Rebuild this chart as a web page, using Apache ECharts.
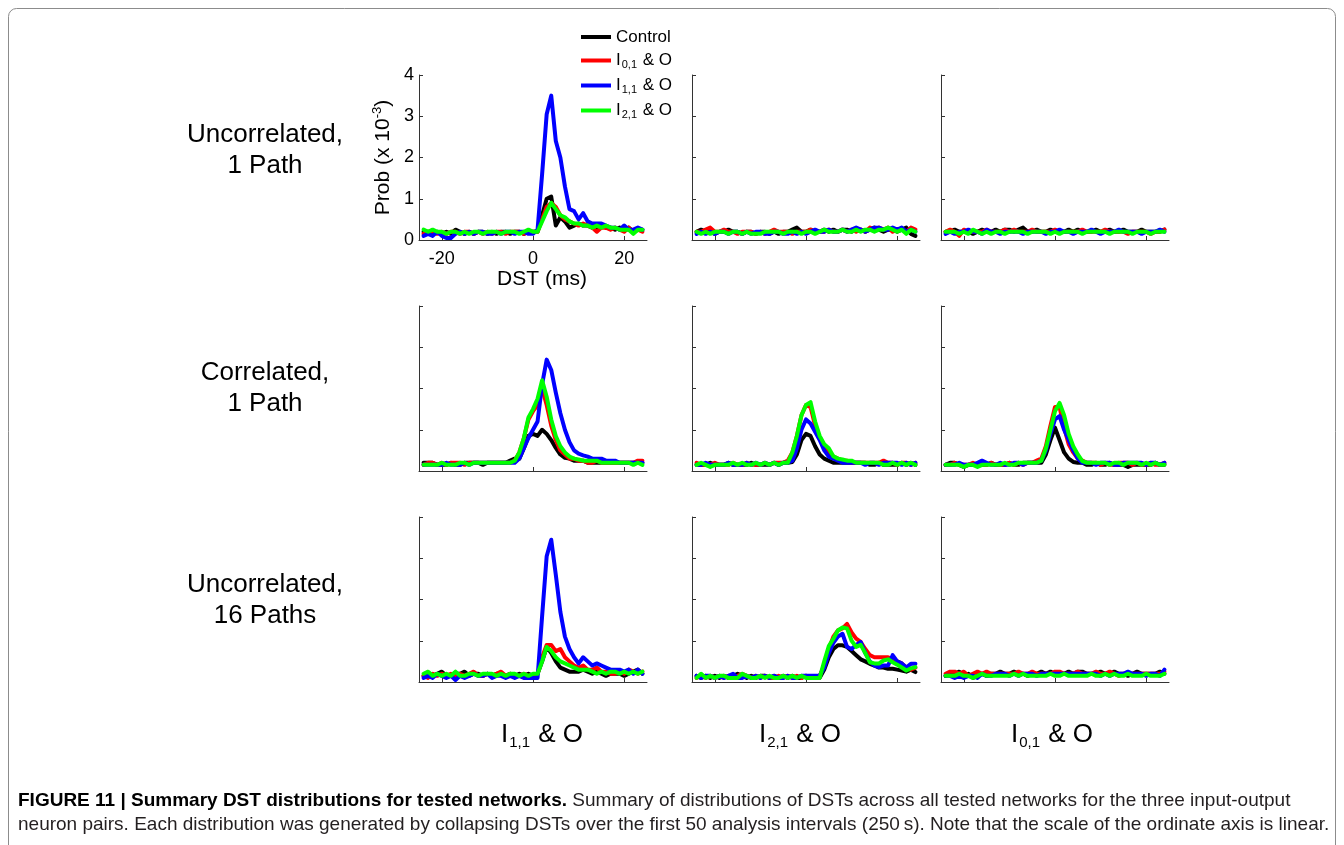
<!DOCTYPE html>
<html>
<head>
<meta charset="utf-8">
<script src="https://cdn.jsdelivr.net/npm/echarts@6/dist/echarts.min.js"></script>
<style>html,body{margin:0;padding:0;background:#fff}#c{width:1344px;height:845px}</style>
</head>
<body>
<div id="c"></div>
<script>
// x values (DST, ms)
const dstMs = [-24,-23,-22,-21,-20,-19,-18,-17,-16,-15,-14,-13,-12,-11,-10,-9,-8,-7,-6,-5,-4,-3,-2,-1,0,1,2,3,4,5,6,7,8,9,10,11,12,13,14,15,16,17,18,19,20,21,22,23,24];
const seriesNames = ['Control', 'I0,1 & O', 'I1,1 & O', 'I2,1 & O'];
const rowLabels = ['Uncorrelated,\n1 Path', 'Correlated,\n1 Path', 'Uncorrelated,\n16 Paths'];
const colLabels = ['1,1', '2,1', '0,1'];
const xTicks = [-20, 0, 20];

// Row 1: Uncorrelated, 1 Path ; column I1,1 & O
const uc1_i11_control = [0.2,0.2,0.15,0.2,0.15,0.2,0.15, 0.25,0.2,0.15,0.2,0.15,0.2,0.2, 0.15,0.2,0.15,0.2,0.2,0.15,0.2, 0.2,0.15,0.2,0.2,0.2,0.6,1.0, 1.05,0.35,0.55,0.45,0.3,0.35,0.4, 0.35,0.35,0.3,0.3,0.35,0.3,0.3, 0.25,0.3,0.25,0.3,0.2,0.25,0.25];
const uc1_i11_i01 = [0.15,0.2,0.2,0.15,0.2,0.15,0.2, 0.2,0.15,0.2,0.2,0.15,0.2,0.15, 0.2,0.15,0.2,0.2,0.15,0.2,0.2, 0.2,0.15,0.2,0.2,0.2,0.5,0.8, 0.9,0.8,0.6,0.5,0.45,0.4,0.35, 0.4,0.35,0.3,0.2,0.3,0.3,0.25, 0.3,0.25,0.2,0.3,0.2,0.25,0.2];
const uc1_i11_i11 = [0.1,0.15,0.1,0.2,0.1,0.05,0.05, 0.15,0.2,0.15,0.2,0.15,0.2,0.2, 0.15,0.15,0.2,0.15,0.2,0.2,0.15, 0.2,0.2,0.15,0.15,0.25,1.6,3.05, 3.5,2.4,2.0,1.3,0.75,0.7,0.5, 0.65,0.45,0.4,0.4,0.4,0.35,0.3, 0.3,0.25,0.35,0.25,0.25,0.3,0.25];
const uc1_i11_i21 = [0.25,0.2,0.25,0.2,0.2,0.15,0.2, 0.2,0.15,0.2,0.15,0.2,0.2,0.15, 0.2,0.2,0.2,0.15,0.2,0.2,0.2, 0.15,0.2,0.25,0.2,0.2,0.45,0.7, 0.9,0.75,0.6,0.55,0.45,0.4,0.4, 0.35,0.35,0.3,0.35,0.3,0.35,0.3, 0.3,0.25,0.25,0.25,0.15,0.25,0.25];
// Row 1 ; column I2,1 & O
const uc1_i21_control = [0.2,0.25,0.2,0.2,0.15,0.2,0.2, 0.25,0.2,0.2,0.15,0.2,0.2,0.15, 0.2,0.2,0.15,0.2,0.15,0.2,0.2, 0.25,0.3,0.2,0.2,0.25,0.2,0.2, 0.25,0.2,0.25,0.2,0.25,0.25,0.2, 0.25,0.25,0.2,0.25,0.3,0.25,0.2, 0.25,0.25,0.2,0.25,0.3,0.15,0.1];
const uc1_i21_i01 = [0.2,0.2,0.25,0.3,0.2,0.2,0.25, 0.2,0.2,0.15,0.2,0.2,0.2,0.15, 0.2,0.15,0.2,0.25,0.2,0.2,0.2, 0.15,0.2,0.2,0.2,0.25,0.2,0.2, 0.2,0.25,0.2,0.2,0.25,0.2,0.25, 0.2,0.25,0.2,0.3,0.25,0.3,0.25, 0.3,0.2,0.25,0.25,0.2,0.3,0.25];
const uc1_i21_i11 = [0.15,0.2,0.15,0.2,0.15,0.2,0.2, 0.15,0.2,0.2,0.15,0.2,0.15,0.2, 0.2,0.15,0.15,0.2,0.2,0.15,0.15, 0.2,0.15,0.2,0.15,0.2,0.25,0.2, 0.2,0.25,0.2,0.2,0.25,0.2,0.25, 0.3,0.25,0.2,0.25,0.3,0.3,0.25, 0.25,0.3,0.25,0.3,0.2,0.25,0.2];
const uc1_i21_i21 = [0.2,0.15,0.2,0.15,0.2,0.2,0.2, 0.15,0.2,0.2,0.15,0.2,0.15,0.15, 0.15,0.2,0.2,0.2,0.2,0.15,0.2, 0.2,0.2,0.15,0.2,0.2,0.15,0.2, 0.25,0.2,0.2,0.2,0.25,0.2,0.2, 0.25,0.2,0.25,0.25,0.2,0.25,0.25, 0.3,0.25,0.2,0.25,0.15,0.25,0.2];
// Row 1 ; column I0,1 & O
const uc1_i01_control = [0.2,0.2,0.25,0.2,0.2,0.2,0.15, 0.2,0.25,0.2,0.2,0.25,0.2,0.25, 0.25,0.2,0.25,0.3,0.2,0.2,0.25, 0.2,0.2,0.25,0.2,0.2,0.2,0.25, 0.2,0.25,0.2,0.2,0.2,0.25,0.2, 0.2,0.25,0.2,0.2,0.25,0.2,0.2, 0.2,0.25,0.2,0.2,0.2,0.2,0.25];
const uc1_i01_i01 = [0.2,0.25,0.2,0.1,0.25,0.2,0.2, 0.2,0.2,0.25,0.2,0.2,0.2,0.25, 0.2,0.25,0.2,0.2,0.2,0.25,0.2, 0.2,0.2,0.2,0.25,0.2,0.2,0.2, 0.2,0.2,0.25,0.2,0.2,0.2,0.2, 0.25,0.2,0.2,0.2,0.2,0.15,0.2, 0.2,0.2,0.2,0.15,0.2,0.2,0.25];
const uc1_i01_i11 = [0.15,0.2,0.15,0.2,0.2,0.25,0.2, 0.2,0.15,0.25,0.2,0.2,0.15,0.2, 0.2,0.2,0.2,0.15,0.2,0.2,0.2, 0.2,0.15,0.2,0.2,0.25,0.2,0.2, 0.15,0.2,0.2,0.2,0.25,0.2,0.15, 0.2,0.2,0.2,0.25,0.2,0.2,0.2, 0.2,0.15,0.2,0.2,0.2,0.25,0.2];
const uc1_i01_i21 = [0.2,0.2,0.2,0.15,0.2,0.15,0.25, 0.2,0.15,0.2,0.15,0.2,0.2,0.15, 0.2,0.2,0.2,0.2,0.15,0.2,0.2, 0.2,0.2,0.15,0.2,0.15,0.2,0.2, 0.2,0.2,0.15,0.2,0.2,0.2,0.2, 0.2,0.15,0.2,0.2,0.2,0.2,0.15, 0.2,0.2,0.2,0.15,0.2,0.2,0.2];

// Row 2: Correlated, 1 Path ; column I1,1 & O
const c1_i11_control = [0.2,0.2,0.2,0.15,0.15,0.15,0.2, 0.15,0.15,0.2,0.2,0.2,0.2,0.15, 0.2,0.2,0.2,0.2,0.2,0.25,0.3, 0.3,0.55,0.85,0.9,0.85,1.0,0.9, 0.75,0.56,0.4,0.32,0.3,0.25,0.25, 0.25,0.2,0.2,0.2,0.2,0.2,0.2, 0.2,0.2,0.2,0.2,0.2,0.2,0.2];
const c1_i11_i01 = [0.15,0.2,0.2,0.15,0.2,0.15,0.2, 0.2,0.2,0.15,0.2,0.2,0.2,0.2, 0.2,0.2,0.2,0.2,0.2,0.2,0.25, 0.45,0.8,1.25,1.45,1.6,2.0,1.6, 1.1,0.75,0.5,0.4,0.3,0.3,0.25, 0.25,0.2,0.2,0.25,0.2,0.2,0.2, 0.2,0.2,0.2,0.2,0.2,0.25,0.25];
const c1_i11_i11 = [0.15,0.15,0.15,0.15,0.15,0.2,0.15, 0.15,0.15,0.2,0.15,0.2,0.2,0.2, 0.2,0.2,0.2,0.2,0.2,0.2,0.2, 0.3,0.55,0.8,1.0,1.2,2.1,2.7, 2.45,1.9,1.4,1.0,0.7,0.5,0.42, 0.38,0.35,0.3,0.3,0.3,0.25,0.25, 0.25,0.2,0.2,0.2,0.2,0.2,0.2];
const c1_i11_i21 = [0.15,0.15,0.15,0.15,0.2,0.15,0.15, 0.15,0.2,0.2,0.15,0.2,0.2,0.2, 0.2,0.2,0.2,0.2,0.2,0.2,0.25, 0.45,0.8,1.3,1.5,1.75,2.2,1.8, 1.25,0.85,0.6,0.45,0.35,0.3,0.28, 0.25,0.25,0.25,0.25,0.2,0.2,0.2, 0.2,0.2,0.2,0.2,0.15,0.2,0.15];
// Row 2 ; column I2,1 & O
const c1_i21_control = [0.15,0.15,0.15,0.2,0.15,0.15,0.15, 0.2,0.15,0.15,0.15,0.15,0.2,0.15, 0.15,0.15,0.15,0.2,0.15,0.2,0.2, 0.22,0.4,0.75,0.9,0.85,0.6,0.4, 0.3,0.25,0.2,0.2,0.2,0.2,0.2, 0.2,0.2,0.2,0.15,0.15,0.2,0.15, 0.15,0.15,0.15,0.2,0.15,0.2,0.15];
const c1_i21_i01 = [0.2,0.15,0.15,0.15,0.2,0.15,0.15, 0.15,0.2,0.15,0.15,0.2,0.15,0.15, 0.15,0.2,0.15,0.2,0.2,0.2,0.25, 0.45,0.85,1.35,1.6,1.55,1.1,0.8, 0.6,0.45,0.35,0.3,0.25,0.25,0.2, 0.2,0.2,0.2,0.2,0.2,0.2,0.25, 0.2,0.2,0.15,0.2,0.2,0.15,0.2];
const c1_i21_i11 = [0.15,0.15,0.2,0.15,0.15,0.15,0.15, 0.2,0.15,0.15,0.15,0.2,0.15,0.2, 0.15,0.2,0.15,0.2,0.15,0.2,0.2, 0.25,0.55,1.0,1.25,1.15,0.95,0.75, 0.5,0.35,0.3,0.25,0.2,0.2,0.2, 0.2,0.2,0.15,0.2,0.2,0.15,0.2, 0.2,0.2,0.2,0.15,0.2,0.15,0.2];
const c1_i21_i21 = [0.15,0.2,0.15,0.1,0.15,0.15,0.15, 0.15,0.2,0.15,0.2,0.15,0.15,0.2, 0.15,0.2,0.15,0.2,0.15,0.2,0.2, 0.45,0.85,1.35,1.6,1.67,1.2,0.85, 0.65,0.55,0.36,0.3,0.28,0.25,0.25, 0.2,0.2,0.2,0.2,0.2,0.2,0.15, 0.15,0.2,0.15,0.2,0.15,0.2,0.15];
// Row 2 ; column I0,1 & O
const c1_i01_control = [0.15,0.2,0.2,0.15,0.1,0.15,0.15, 0.15,0.15,0.15,0.2,0.15,0.15,0.15, 0.2,0.15,0.15,0.2,0.2,0.2,0.2, 0.2,0.4,0.75,1.05,0.75,0.45,0.3, 0.22,0.2,0.2,0.15,0.15,0.2,0.15, 0.15,0.2,0.15,0.15,0.15,0.1,0.15, 0.15,0.15,0.15,0.15,0.2,0.15,0.15];
const c1_i01_i01 = [0.15,0.15,0.2,0.15,0.15,0.15,0.2, 0.15,0.15,0.15,0.2,0.15,0.15,0.15, 0.2,0.15,0.2,0.15,0.2,0.2,0.25, 0.3,0.6,1.1,1.55,1.55,1.05,0.65, 0.45,0.3,0.25,0.2,0.2,0.2,0.15, 0.2,0.15,0.15,0.2,0.2,0.2,0.15, 0.2,0.15,0.15,0.2,0.15,0.15,0.2];
const c1_i01_i11 = [0.15,0.15,0.15,0.2,0.15,0.15,0.15, 0.2,0.25,0.2,0.15,0.15,0.2,0.15, 0.15,0.2,0.2,0.15,0.2,0.2,0.2, 0.25,0.5,0.9,1.25,1.33,1.0,0.75, 0.5,0.3,0.2,0.2,0.2,0.15,0.2, 0.2,0.2,0.15,0.15,0.2,0.2,0.2, 0.2,0.2,0.15,0.2,0.2,0.15,0.2];
const c1_i01_i21 = [0.15,0.15,0.15,0.15,0.1,0.15,0.15, 0.1,0.15,0.15,0.15,0.15,0.15,0.2, 0.15,0.15,0.2,0.2,0.2,0.2,0.2, 0.25,0.55,1.0,1.45,1.65,1.35,0.9, 0.6,0.4,0.24,0.2,0.2,0.2,0.2, 0.2,0.15,0.2,0.2,0.15,0.2,0.2, 0.2,0.15,0.2,0.15,0.2,0.15,0.15];

// Row 3: Uncorrelated, 16 Paths ; column I1,1 & O
const uc16_i11_control = [0.15,0.2,0.15,0.2,0.25,0.15,0.15, 0.2,0.2,0.25,0.15,0.2,0.2,0.15, 0.2,0.15,0.2,0.2,0.15,0.2,0.15, 0.2,0.15,0.2,0.15,0.2,0.5,0.85, 0.7,0.5,0.35,0.3,0.25,0.25,0.25, 0.3,0.25,0.2,0.25,0.2,0.15,0.2, 0.2,0.2,0.15,0.2,0.25,0.3,0.2];
const uc16_i11_i01 = [0.15,0.1,0.2,0.15,0.2,0.15,0.2, 0.15,0.2,0.15,0.2,0.25,0.15,0.15, 0.2,0.15,0.2,0.25,0.15,0.2,0.15, 0.15,0.2,0.15,0.15,0.2,0.6,0.9, 0.9,0.75,0.8,0.6,0.5,0.4,0.35, 0.4,0.3,0.3,0.35,0.25,0.25,0.2, 0.2,0.25,0.2,0.3,0.25,0.2,0.25];
const uc16_i11_i11 = [0.1,0.15,0.1,0.2,0.15,0.1,0.15, 0.05,0.15,0.1,0.15,0.2,0.15,0.15, 0.2,0.1,0.15,0.15,0.1,0.15,0.1, 0.15,0.1,0.1,0.1,0.1,1.6,3.05, 3.45,2.6,1.7,1.1,0.8,0.6,0.45, 0.6,0.5,0.4,0.45,0.4,0.35,0.3, 0.3,0.3,0.25,0.3,0.2,0.3,0.2];
const uc16_i11_i21 = [0.2,0.25,0.15,0.2,0.15,0.2,0.15, 0.25,0.15,0.15,0.2,0.2,0.15,0.2, 0.2,0.2,0.15,0.2,0.15,0.2,0.2, 0.15,0.2,0.15,0.2,0.2,0.5,0.85, 0.75,0.6,0.5,0.45,0.4,0.35,0.3, 0.3,0.3,0.25,0.2,0.25,0.2,0.25, 0.25,0.2,0.25,0.2,0.25,0.2,0.25];
// Row 3 ; column I2,1 & O
const uc16_i21_control = [0.15,0.1,0.15,0.1,0.15,0.1,0.15, 0.1,0.15,0.2,0.15,0.1,0.15,0.1, 0.15,0.15,0.1,0.15,0.1,0.15,0.1, 0.15,0.1,0.1,0.15,0.1,0.1,0.1, 0.3,0.6,0.8,0.89,0.89,0.85,0.75, 0.65,0.55,0.5,0.44,0.4,0.35,0.35, 0.32,0.32,0.3,0.28,0.25,0.3,0.24];
const uc16_i21_i01 = [0.1,0.15,0.1,0.15,0.1,0.15,0.1, 0.15,0.1,0.15,0.2,0.15,0.1,0.15, 0.1,0.15,0.1,0.1,0.15,0.1,0.15, 0.1,0.15,0.1,0.15,0.1,0.1,0.15, 0.4,0.8,1.1,1.25,1.3,1.41,1.2, 1.05,0.97,0.8,0.65,0.6,0.6,0.6, 0.6,0.55,0.5,0.45,0.35,0.3,0.35];
const uc16_i21_i11 = [0.15,0.1,0.15,0.15,0.1,0.15,0.1, 0.15,0.2,0.1,0.1,0.15,0.1,0.15, 0.1,0.15,0.1,0.15,0.1,0.1,0.15, 0.1,0.1,0.15,0.15,0.15,0.15,0.15, 0.35,0.7,0.95,1.1,1.17,0.85,0.8, 0.9,0.97,0.7,0.5,0.4,0.36,0.4, 0.4,0.65,0.5,0.45,0.35,0.44,0.44];
const uc16_i21_i21 = [0.1,0.2,0.1,0.15,0.1,0.15,0.15, 0.1,0.1,0.1,0.2,0.15,0.1,0.1, 0.15,0.1,0.15,0.1,0.1,0.15,0.1, 0.15,0.1,0.15,0.1,0.1,0.1,0.1, 0.5,0.87,1.05,1.25,1.32,1.3,1.0, 0.85,0.9,0.7,0.48,0.45,0.45,0.52, 0.55,0.48,0.42,0.35,0.28,0.33,0.36];
// Row 3 ; column I0,1 & O
const uc16_i01_control = [0.15,0.2,0.2,0.25,0.15,0.2,0.1, 0.15,0.2,0.15,0.2,0.2,0.25,0.2, 0.2,0.25,0.2,0.2,0.15,0.2,0.2, 0.25,0.2,0.25,0.2,0.2,0.2,0.25, 0.2,0.25,0.25,0.2,0.2,0.2,0.25, 0.2,0.2,0.25,0.2,0.2,0.15,0.2, 0.25,0.2,0.2,0.2,0.2,0.25,0.2];
const uc16_i01_i01 = [0.2,0.25,0.25,0.2,0.25,0.15,0.2, 0.25,0.2,0.25,0.2,0.2,0.2,0.2, 0.2,0.2,0.25,0.2,0.2,0.25,0.2, 0.2,0.2,0.2,0.25,0.25,0.2,0.2, 0.2,0.25,0.2,0.2,0.2,0.25,0.2, 0.2,0.25,0.2,0.15,0.2,0.2,0.2, 0.2,0.2,0.2,0.2,0.2,0.2,0.25];
const uc16_i01_i11 = [0.15,0.15,0.1,0.15,0.1,0.15,0.15, 0.1,0.2,0.15,0.15,0.2,0.2,0.2, 0.15,0.2,0.15,0.2,0.2,0.2,0.15, 0.2,0.2,0.2,0.2,0.2,0.2,0.2, 0.2,0.2,0.2,0.2,0.2,0.2,0.15, 0.2,0.15,0.2,0.2,0.2,0.25,0.2, 0.2,0.2,0.15,0.2,0.2,0.15,0.3];
const uc16_i01_i21 = [0.15,0.15,0.15,0.2,0.15,0.15,0.1, 0.15,0.2,0.15,0.15,0.15,0.15,0.15, 0.15,0.2,0.15,0.2,0.15,0.15,0.15, 0.15,0.15,0.2,0.15,0.15,0.2,0.15, 0.15,0.15,0.15,0.15,0.2,0.15,0.15, 0.2,0.15,0.2,0.15,0.15,0.2,0.15, 0.15,0.15,0.2,0.15,0.15,0.15,0.2];

const panelData = [
  [uc1_i11_control, uc1_i11_i01, uc1_i11_i11, uc1_i11_i21],
  [uc1_i21_control, uc1_i21_i01, uc1_i21_i11, uc1_i21_i21],
  [uc1_i01_control, uc1_i01_i01, uc1_i01_i11, uc1_i01_i21],
  [c1_i11_control, c1_i11_i01, c1_i11_i11, c1_i11_i21],
  [c1_i21_control, c1_i21_i01, c1_i21_i11, c1_i21_i21],
  [c1_i01_control, c1_i01_i01, c1_i01_i11, c1_i01_i21],
  [uc16_i11_control, uc16_i11_i01, uc16_i11_i11, uc16_i11_i21],
  [uc16_i21_control, uc16_i21_i01, uc16_i21_i11, uc16_i21_i21],
  [uc16_i01_control, uc16_i01_i01, uc16_i01_i11, uc16_i01_i21]
];

// ---- layout / style ----
const FONT = '"Liberation Sans", Arial, Helvetica, sans-serif';
const colors = ['#000000', '#ff0000', '#0000ff', '#00ff00'];
const gridLeft = [419, 692, 941];
const gridTop = [75, 306, 517];
const GW = 228, GH = 165;
const axisColor = '#333333';

const grids = [], xAxes = [], yAxes = [], series = [];
for (let p = 0; p < 9; p++) {
  const r = Math.floor(p / 3), c = p % 3;
  const first = p === 0;
  grids.push({left: gridLeft[c], top: gridTop[r], width: GW, height: GH, containLabel: false, outerBoundsMode: 'none'});
  xAxes.push({
    type: 'value', gridIndex: p, min: -25, max: 25,
    axisLine: {show: true, onZero: false, lineStyle: {color: axisColor, width: 1}},
    axisTick: {show: true, inside: true, length: 4, customValues: xTicks, lineStyle: {color: axisColor}},
    axisLabel: {show: first, customValues: xTicks, color: '#000', fontSize: 18, fontFamily: FONT, margin: 10},
    splitLine: {show: false},
    name: first ? 'DST (ms)' : '', nameLocation: 'middle', nameGap: 27,
    nameTextStyle: {color: '#000', fontSize: 21, fontFamily: FONT, padding: [0, 0, 0, 18]}
  });
  yAxes.push({
    type: 'value', gridIndex: p, min: 0, max: 4, interval: 1,
    axisLine: {show: true, onZero: false, lineStyle: {color: axisColor, width: 1}},
    axisTick: {show: true, inside: true, length: 4, lineStyle: {color: axisColor}},
    axisLabel: {show: first, color: '#000', fontSize: 18, fontFamily: FONT, margin: 5},
    splitLine: {show: false},
    name: first ? '{a|Prob (x 10}{p|-3}{a|)}' : '', nameLocation: 'middle', nameRotate: 90, nameGap: 24,
    nameTextStyle: {color: '#000', fontFamily: FONT, rich: {
      a: {fontSize: 21, lineHeight: 24, fontFamily: FONT, color: '#000'},
      p: {fontSize: 13, lineHeight: 12, verticalAlign: 'top', fontFamily: FONT, color: '#000'}
    }}
  });
  panelData[p].forEach((vals, k) => {
    series.push({
      type: 'line', name: seriesNames[k], xAxisIndex: p, yAxisIndex: p,
      data: dstMs.map((x, i) => [x, vals[i]]),
      showSymbol: false, symbol: 'none', smooth: false,
      lineStyle: {color: colors[k], width: 4, join: 'round', cap: 'round'},
      itemStyle: {color: colors[k]},
      emphasis: {disabled: true}, z: 2 + k
    });
  });
}

const subOf = {'I0,1 & O': '0,1', 'I1,1 & O': '1,1', 'I2,1 & O': '2,1'};

const graphics = [
  {type: 'rect', shape: {x: 8.5, y: 8.5, width: 1327, height: 900, r: 8}, style: {fill: 'none', stroke: '#8c8c8c', lineWidth: 1}, silent: true}
];
const rowCenters = [150, 388, 600];
rowLabels.forEach((t, r) => {
  graphics.push({type: 'text', x: 265, y: rowCenters[r], style: {
    text: t, font: '26px ' + FONT, fill: '#000', align: 'center', verticalAlign: 'middle', lineHeight: 31
  }});
});
const colCenters = [542, 800, 1052];
colLabels.forEach((s, c) => {
  graphics.push({type: 'text', x: colCenters[c], y: 720, style: {
    text: '{a|I}{s|' + s + '}{a| & O}', align: 'center', verticalAlign: 'top',
    rich: {
      a: {fontSize: 26, lineHeight: 30, fontFamily: FONT, fill: '#000'},
      s: {fontSize: 15, lineHeight: 14, verticalAlign: 'bottom', fontFamily: FONT, fill: '#000', padding: [0, 1, 0, 1]}
    }
  }});
});
graphics.push({type: 'text', x: 18, y: 788.5, style: {
  text: '{b|FIGURE 11 | Summary DST distributions for tested networks.}{r| Summary of distributions of DSTs across all tested networks for the three input-output}\n{r|neuron pairs. Each distribution was generated by collapsing DSTs over the first 50 analysis intervals (250\u2009s). Note that the scale of the ordinate axis is linear.}',
  align: 'left', verticalAlign: 'top',
  rich: {
    b: {fontSize: 19, lineHeight: 24, fontWeight: 'bold', fontFamily: FONT, fill: '#000'},
    r: {fontSize: 19, lineHeight: 24, fontFamily: FONT, fill: '#231f20'}
  }
}});

const chart = echarts.init(document.getElementById('c'), null, {renderer: 'canvas'});
chart.setOption({
  animation: false,
  backgroundColor: '#ffffff',
  grid: grids, xAxis: xAxes, yAxis: yAxes, series: series,
  legend: {
    data: seriesNames, orient: 'vertical', left: 576, top: 23.5,
    itemWidth: 30, itemHeight: 4, itemGap: 6.5, icon: 'rect', selectedMode: false,
    formatter: function (name) {
      if (name === 'Control') return '{t|Control}';
      return '{t|I}{s|' + subOf[name] + '}{t| & O}';
    },
    textStyle: {color: '#000', rich: {
      t: {fontSize: 17, lineHeight: 20, fontFamily: FONT, color: '#000'},
      s: {fontSize: 11, lineHeight: 10, verticalAlign: 'bottom', fontFamily: FONT, color: '#000', padding: [0, 1, 0, 1]}
    }}
  },
  graphic: graphics
});
</script>
</body>
</html>
